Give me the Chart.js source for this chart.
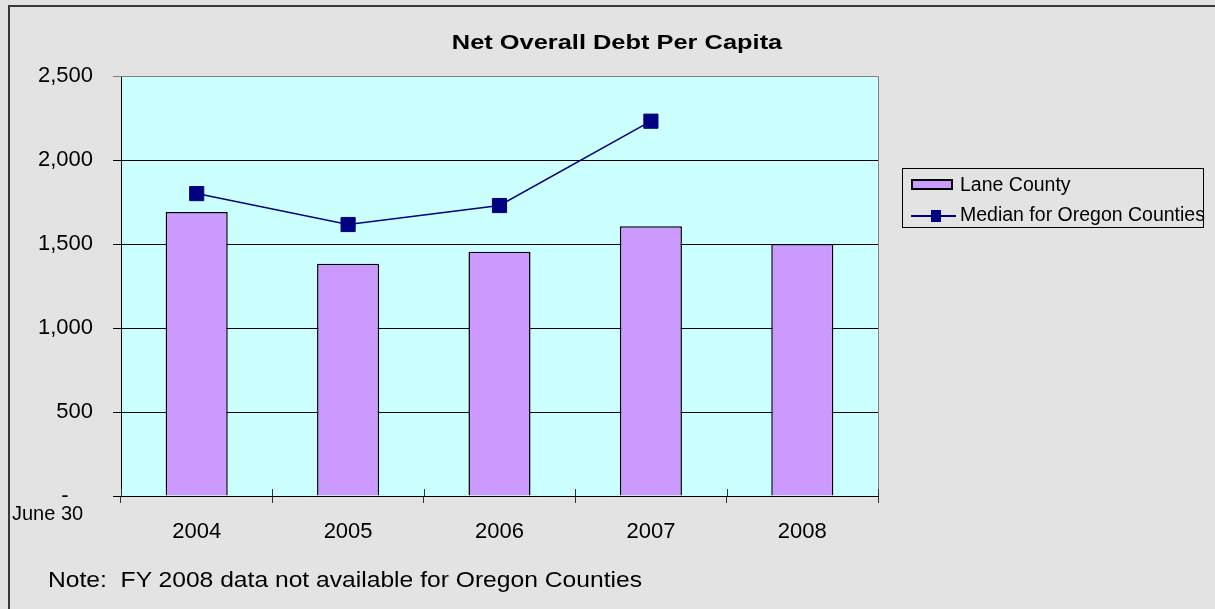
<!DOCTYPE html>
<html>
<head>
<meta charset="utf-8">
<script src="https://cdn.jsdelivr.net/npm/chart.js@4/dist/chart.umd.min.js"></script>
<style>
  html, body { margin: 0; padding: 0; }
  body { width: 1215px; height: 609px; background: #e3e3e3; position: relative; overflow: hidden;
         font-family: "Liberation Sans", Arial, sans-serif; }
  #frame { position: absolute; left: 8px; top: 5px; right: -10px; bottom: -10px;
           border-left: 2px solid #3a3a3a; border-top: 2px solid #3a3a3a; }
  #chart { position: absolute; left: 0; top: 0; }
  .txt { position: absolute; white-space: nowrap; color: #000; line-height: 1; }
  #title { left: 617px; top: 31px; font-size: 21px; font-weight: bold; transform: translateX(-50%) scaleX(1.21); }
  #june { left: 12px; top: 503px; font-size: 20px; }
  #note { left: 48px; top: 569px; font-size: 22px; transform-origin: left top; transform: scaleX(1.12); }
  #legend { position: absolute; left: 902px; top: 168px; width: 300px; height: 58px; border: 1px solid #000; }
  .row { position: absolute; left: 0; height: 24px; }
  .sw { position: absolute; left: 8px; top: 10px; width: 38px; height: 7px; background: #cc99ff; border: 2px solid #000; }
  .ln { position: absolute; left: 8px; top: 16px; width: 45px; height: 1.5px; background: #000080; }
  .mk { position: absolute; left: 28px; top: 11px; width: 10px; height: 12px; background: #000080; }
  .lt { position: absolute; left: 57px; top: 6px; font-size: 19.5px; white-space: nowrap; line-height: 1; }
</style>
</head>
<body>
<div id="frame"></div>
<canvas id="chart" width="1215" height="609"></canvas>
<div class="txt" id="title">Net Overall Debt Per Capita</div>
<div class="txt" id="june">June 30</div>
<div class="txt" id="note">Note:&nbsp; FY 2008 data not available for Oregon Counties</div>
<div id="legend">
  <div class="row" style="top:0px"><div class="sw"></div><div class="lt">Lane County</div></div>
  <div class="row" style="top:30px"><div class="ln"></div><div class="mk"></div><div class="lt">Median for Oregon Counties</div></div>
</div>
<script>
// Data
const years = ['2004', '2005', '2006', '2007', '2008'];
const laneCounty = [1690, 1382, 1454, 1606, 1500];
const oregonMedian = [1800, 1616, 1729, 2231, null];
const yTicks = [0, 500, 1000, 1500, 2000, 2500];

// plot background, grey top/right border, and cross tick marks on the x axis
const plotFrame = {
  id: 'plotFrame',
  beforeDraw(chart) {
    const a = chart.chartArea, ctx = chart.ctx;
    ctx.save();
    ctx.fillStyle = '#ccffff';
    ctx.fillRect(a.left, a.top, a.right - a.left, a.bottom - a.top);
    ctx.restore();
  },
  afterDatasetsDraw(chart) {
    const a = chart.chartArea, ctx = chart.ctx;
    ctx.save();
    ctx.strokeStyle = '#808080';
    ctx.lineWidth = 1;
    ctx.beginPath();
    ctx.moveTo(a.left, a.top + 0.5);
    ctx.lineTo(a.right + 0.5, a.top + 0.5);
    ctx.lineTo(a.right + 0.5, a.bottom);
    ctx.stroke();
    // inner half of the x tick marks
    const step = (a.right - a.left) / years.length;
    ctx.strokeStyle = '#333';
    ctx.beginPath();
    for (let i = 0; i <= years.length; i++) {
      const x = Math.round(a.left + i * step) + 0.5;
      ctx.moveTo(x, a.bottom - 7);
      ctx.lineTo(x, a.bottom);
    }
    ctx.stroke();
    ctx.restore();
  }
};

const ctx = document.getElementById('chart').getContext('2d');
new Chart(ctx, {
  type: 'bar',
  data: {
    labels: years,
    datasets: [
      {
        type: 'line',
        label: 'Median for Oregon Counties',
        data: oregonMedian,
        borderColor: '#000080',
        backgroundColor: '#000080',
        borderWidth: 1.5,
        pointStyle: 'rect',
        pointRadius: 10,
        pointBorderWidth: 1,
        pointBackgroundColor: '#000080',
        pointBorderColor: '#000080',
        tension: 0,
        order: 1
      },
      {
        label: 'Lane County',
        data: laneCounty,
        backgroundColor: '#cc99ff',
        borderColor: '#000000',
        borderWidth: 1.5,
        categoryPercentage: 1,
        barPercentage: 0.41,
        order: 2
      }
    ]
  },
  options: {
    responsive: false,
    devicePixelRatio: 1,
    animation: false,
    layout: { padding: { left: 0, top: 76, right: 337, bottom: 53 } },
    plugins: {
      legend: { display: false },
      title: { display: false },
      tooltip: { enabled: false }
    },
    scales: {
      x: {
        offset: true,
        afterFit: s => { s.height = 60; },
        grid: { display: true, drawOnChartArea: false, offset: true, tickLength: 7, color: '#333' },
        border: { color: '#000', width: 1 },
        ticks: { color: '#000', padding: 16, font: { family: 'Liberation Sans, Arial', size: 22 } }
      },
      y: {
        min: 0,
        max: 2500,
        afterFit: s => { s.width = 121; },
        afterBuildTicks: s => { s.ticks = yTicks.map(v => ({ value: v })); },
        grid: {
          color: c => (c.tick && c.tick.value === 2500 ? '#808080' : '#000'),
          lineWidth: 1,
          tickLength: 8
        },
        border: { color: '#000', width: 1 },
        ticks: {
          color: '#000',
          padding: 20,
          font: { family: 'Liberation Sans, Arial', size: 22 },
          callback: v => (v === 0 ? '-    ' : v.toLocaleString('en-US'))
        }
      }
    }
  },
  plugins: [plotFrame]
});
</script>
</body>
</html>
